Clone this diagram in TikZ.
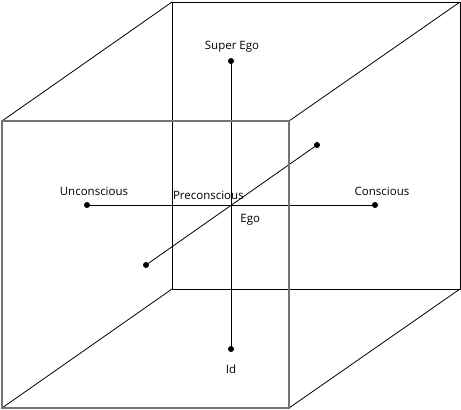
\documentclass[tikz,border=0pt]{standalone}
\usepackage{fontspec}
\setmainfont{Open Sans}
\usetikzlibrary{positioning}
\tikzset{
  dot/.style={circle,fill=black,inner sep=0pt,minimum size=6pt},
  lbl/.style={inner sep=0pt,anchor=base,font=\fontsize{11.5}{13}\selectfont},
  backface/.style={draw=black,line width=0.8pt},
  frontface/.style={draw=black!55,line width=1.4pt}
}

\begin{document}
\begin{tikzpicture}[x=1pt,y=-1pt]
   \useasboundingbox (0,0) rectangle (461,410);

   % corners of the cube
   \coordinate (bnw) at (172,2);   \coordinate (bne) at (460,2);
   \coordinate (bsw) at (172,289); \coordinate (bse) at (460,289);
   \coordinate (fnw) at (2,121);   \coordinate (fne) at (289,121);
   \coordinate (fsw) at (2,408);   \coordinate (fse) at (289,408);

   % back face and edges
   \draw[backface] (bnw) rectangle (bse);
   \draw[backface] (fnw) -- (bnw) (fne) -- (bne) (fsw) -- (bsw) (fse) -- (bse);

   % the three axes
   \node[dot] (superego) at (231,61) {};
   \node[dot] (id) at (231,349) {};
   \node[dot] (uncons) at (87,205) {};
   \node[dot] (cons) at (375,205) {};
   \node[dot] (front) at (146,265) {};
   \node[dot] (back) at (317,145) {};
   \coordinate (ego) at (231,205);

   \draw[backface] (superego.center) -- (id.center);
   \draw[backface] (uncons.center) -- (cons.center);
   \draw[backface] (front.center) -- (back.center);

   % front face
   \draw[frontface] (fnw) rectangle (fse);

   % labels
   \node[lbl] at ([xshift=1pt,yshift=12pt]superego) {Super Ego};
   \node[lbl] at ([yshift=-24pt]id) {Id};
   \node[lbl] at ([xshift=7pt,yshift=9.3pt]uncons) {Unconscious};
   \node[lbl] at ([xshift=7pt,yshift=9.3pt]cons) {Conscious};
   \node[lbl] at ([xshift=-22.6pt,yshift=5.7pt]ego) {Preconscious};
   \node[lbl] at ([xshift=19.2pt,yshift=-17.7pt]ego) {Ego};
\end{tikzpicture}
\end{document}
